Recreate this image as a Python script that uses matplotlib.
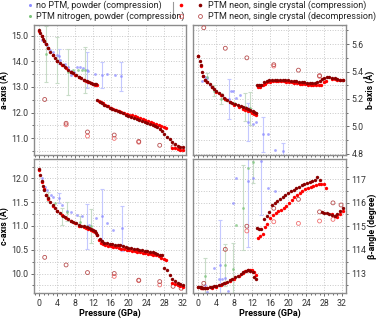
import numpy as np
import matplotlib
matplotlib.use("Agg")
import matplotlib.pyplot as plt
from matplotlib.ticker import MultipleLocator, FormatStrFormatter
from matplotlib.lines import Line2D
from matplotlib.legend_handler import HandlerTuple

plt.rcParams["font.family"] = ["Roboto", "DejaVu Sans"]

nan = np.nan

# --- PTM neon, single crystal (compression), run 1 (dark red) ---
p_dark = [0, 0.25, 0.5, 0.8, 1.1, 1.5, 2.0, 2.5, 3.0, 3.5, 4.0, 4.6, 5.2, 5.8, 6.4, 7.0,
          7.6, 8.2, 8.8, 9.4, 10.0, 10.6, 11.1, 11.6, 12.1, 12.5, 12.8,
          13.0, 13.5, 14.0, 14.6, 15.2, 15.8, 16.4, 17.0, 17.6, 18.2, 18.8, 19.4, 20.0,
          20.6, 21.2, 21.8, 22.4, 23.0, 23.6, 24.2, 24.8, 25.4, 26.0, 26.5, 27.0, 27.5,
          28.0, 28.6, 29.2, 29.8, 30.4, 31.0, 31.6, 32.2]
a_dark = [15.22, 15.12, 15.0, 14.88, 14.78, 14.66, 14.52, 14.38, 14.25, 14.13, 14.03, 13.93,
          13.84, 13.76, 13.68, 13.60, 13.53, 13.46, 13.40, 13.34, 13.28, 13.23, 13.19, 13.16,
          13.13, 13.11, 13.10,
          12.48, 12.43, 12.38, 12.31, 12.25, 12.18, 12.13, 12.09, 12.05, 12.01, 11.97, 11.92,
          11.88, 11.84, 11.80, 11.76, 11.72, 11.68, 11.64, 11.60, 11.56, 11.52, 11.48, 11.44,
          11.36, 11.28, 11.18, 11.06, 10.95, 10.84, 10.76, 10.71, 10.67, 10.64]
b_dark = [5.515, 5.48, 5.45, 5.40, 5.37, 5.34, 5.325, 5.31, 5.29, 5.27, 5.255, 5.24, 5.225,
          5.21, 5.195, 5.18, 5.17, 5.16, 5.155, 5.145, 5.14, 5.13, 5.125, 5.12, 5.115, 5.105,
          5.095,
          5.305, 5.30, 5.30, 5.32, 5.33, 5.335, 5.34, 5.34, 5.34, 5.34, 5.34, 5.338, 5.335,
          5.333, 5.33, 5.328, 5.325, 5.322, 5.32, 5.318, 5.317, 5.317, 5.318, 5.32, 5.33,
          5.345, 5.355, 5.36, 5.36, 5.355, 5.35, 5.345, 5.34, 5.335]
c_dark = [12.20, 12.08, 11.94, 11.84, 11.76, 11.66, 11.58, 11.50, 11.44, 11.38, 11.32, 11.27,
          11.22, 11.18, 11.14, 11.11, 11.09, 11.06, 11.03, 11.01, 10.99, 10.97, 10.95, 10.93,
          10.91, 10.89, 10.86,
          10.80, 10.73, 10.68, 10.65, 10.64, 10.63, 10.62, 10.61, 10.60, 10.59, 10.57, 10.55,
          10.54, 10.53, 10.52, 10.51, 10.50, 10.49, 10.48, 10.47, 10.46, 10.45, 10.43, 10.42,
          10.40, 10.38, 10.12, 10.07, 9.97, 9.89, 9.84, 9.80, 9.77, 9.75]
beta_dark = [112.43, 112.42, 112.41, 112.40, 112.39, 112.39, 112.40, 112.41, 112.43, 112.45,
             112.47, 112.51, 112.55, 112.59, 112.64, 112.70, 112.76, 112.84, 112.91, 112.99,
             113.06, 113.12, 113.13, 113.10, 113.04, 112.85, 112.75,
             114.94, 114.90, 114.88, 115.30, 115.45, 115.60, 115.88, 115.98, 116.05, 116.15,
             116.24, 116.32, 116.40, 116.48, 116.55, 116.62, 116.68, 116.74, 116.79, 116.84,
             116.88, 116.93, 116.97, 117.08, 116.98, 115.60, 115.58, 115.55, 115.50, 115.46,
             115.45, 115.52, 115.65, 115.78]

# --- PTM neon, single crystal (compression), run 2 (red) ---
p_red = [0, 0.5, 1.0, 1.5, 2.0, 3.0, 4.0, 5.0, 6.0, 7.0, 8.0, 9.0, 10.0, 10.5, 11.0, 11.5,
         12.0, 12.5, 12.9,
         13.3, 13.8, 14.3, 14.8, 15.4, 16.0, 16.6, 17.2, 17.8, 18.4, 19.0, 19.6, 20.2, 20.8,
         21.4, 22.0, 22.6, 23.2, 23.8, 24.4, 25.0, 25.6, 26.2, 26.8, 27.4, 28.0, 28.4,
         29.8, 30.4, 31.0, 31.6, 32.2]
a_red = [15.2, 14.98, 14.8, 14.66, 14.52, 14.25, 14.03, 13.86, 13.73, 13.60, 13.48, 13.38,
         13.28, 13.24, 13.20, 13.16, 13.12, 13.09, 13.07,
         12.46, 12.41, 12.36, 12.30, 12.24, 12.19, 12.15, 12.11, 12.07, 12.03, 11.99, 11.96,
         11.92, 11.89, 11.85, 11.82, 11.78, 11.75, 11.71, 11.68, 11.64, 11.60, 11.56, 11.52,
         11.47, 11.42, 11.38,
         10.62, 10.60, 10.57, 10.55, 10.53]
b_red = [5.51, 5.44, 5.37, 5.34, 5.32, 5.29, 5.25, 5.225, 5.20, 5.175, 5.155, 5.14, 5.125,
         5.12, 5.115, 5.11, 5.10, 5.09, 5.085,
         5.285, 5.29, 5.30, 5.31, 5.32, 5.325, 5.33, 5.33, 5.33, 5.33, 5.328, 5.325, 5.323,
         5.32, 5.318, 5.315, 5.312, 5.31, 5.307, 5.305, 5.303, 5.30, 5.30, 5.298, 5.30, 5.32,
         5.33,
         5.345, 5.345, 5.34, 5.34, 5.335]
c_red = [12.18, 11.93, 11.77, 11.65, 11.57, 11.43, 11.31, 11.23, 11.16, 11.10, 11.06, 11.01,
         10.98, 10.96, 10.94, 10.92, 10.90, 10.87, 10.82,
         10.70, 10.65, 10.62, 10.60, 10.58, 10.57, 10.56, 10.55, 10.53, 10.52, 10.51, 10.50,
         10.49, 10.48, 10.47, 10.46, 10.45, 10.44, 10.43, 10.42, 10.41, 10.40, 10.38, 10.36,
         10.33, 10.30, 10.28,
         9.80, 9.77, 9.75, 9.73, 9.72]
beta_red = [112.42, 112.40, 112.38, 112.37, 112.38, 112.40, 112.44, 112.50, 112.58, 112.67,
            112.78, 112.90, 113.02, 113.10, 113.16, 113.16, 113.13, 113.05, 112.95,
            114.52, 114.60, 114.68, 114.95, 115.10, 115.35, 115.48, 115.56, 115.63, 115.70,
            115.78, 115.86, 115.98, 116.10, 116.22, 116.32, 116.42, 116.50, 116.56, 116.62,
            116.67, 116.72, 116.76, 116.78, 116.80, 116.80, 116.64,
            115.50, 115.45, 115.40, 115.50, 115.65]

# --- PTM neon, single crystal (decompression) ---
p_dec_dark = [1.2, 6.0, 10.8, 16.8, 22.3, 27.0, 30.0, 31.8]
a_dec_dark = [12.51, 11.58, 11.24, 11.12, 10.87, 10.72, 10.66, nan]
b_dec_dark = [5.72, 5.57, 5.50, 5.45, 5.41, 5.37, nan, nan]
c_dec_dark = [10.34, 10.18, 10.02, 10.00, 9.86, 9.83, 9.73, 9.69]
beta_dec_dark = [112.58, 114.02, 115.0, 115.76, 116.14, 115.61, 115.99, 115.9]

p_dec_red = [6.0, 10.8, 16.8, 22.3, 27.0, 30.0]
a_dec_red = [11.52, 11.08, 10.99, 10.84, nan, nan]
b_dec_red = [nan, nan, 5.44, nan, 5.365, nan]
c_dec_red = [nan, nan, 9.94, 9.85, 9.76, nan]
beta_dec_red = [nan, 114.8, 115.19, 115.12, 115.22, 115.29]

# --- no PTM, powder (compression) ---
p_blue_a = [0.7, 1.3, 1.8, 2.5, 3.0, 3.9, 4.4, 4.7, 5.8, 6.4, 7.0, 7.2, 7.8, 8.4, 9.2, 9.8,
            10.6, 11.0, 12.5, 14.0, 15.1, 16.9, 18.4]
a_blue = [14.85, 14.70, 14.62, 14.45, 14.35, 14.25, 14.20, 14.05, 13.90, 13.78, 13.63, 13.45,
          13.58, 13.78, 13.78, 13.75, 13.65, 13.62, 13.49, 13.46, 13.50, 13.46, 13.42]
a_blue_err = [nan, nan, nan, nan, nan, nan, 0.3, nan, nan, nan, nan, nan, nan, nan, nan, nan,
              0.7, nan, nan, 0.52, nan, nan, 0.56]
p_blue_b = [0.8, 1.5, 1.9, 2.6, 3.4, 3.8, 4.5, 5.3, 6.0, 6.8, 7.3, 7.8, 8.3, 9.2, 10.5, 11.0,
            12.1, 12.8, 14.4, 15.5, 17.0, 18.9]
b_blue = [5.33, 5.36, 5.35, 5.30, 5.27, 5.26, 5.24, 5.23, 5.21, 5.20, 5.26, 5.26, 5.21, 5.23,
          5.14, 5.03, 5.02, 5.03, 4.94, 4.94, 4.83, 4.82]
b_blue_err = [nan, nan, nan, nan, nan, nan, nan, nan, nan, 0.145, nan, nan, nan, nan, nan,
              0.14, nan, nan, 0.13, nan, nan, 0.06]
p_blue_c = [0.5, 1.3, 1.8, 2.6, 3.1, 4.3, 5.0, 6.1, 7.2, 8.4, 9.5, 10.7, 11.2, 12.8, 14.0,
            15.2, 16.6, 18.6]
c_blue = [12.0, 11.82, 11.76, 11.65, 11.62, 11.59, 11.45, 11.32, 11.30, 11.24, 11.21, 10.99,
          11.02, 11.16, 11.22, 11.07, 10.92, 10.95]
c_blue_err = [nan, nan, nan, nan, nan, 0.1, nan, nan, nan, nan, nan, 0.47, nan, nan, 0.55,
              nan, nan, 0.48]
p_blue_beta = [1.5, 2.0, 3.4, 4.5, 4.8, 5.2, 6.0, 6.7, 7.8, 8.3, 11.0, 12.1, 14.0, 15.5, 17.0]
beta_blue = [112.5, 112.22, 113.21, 112.76, 113.35, 112.76, 112.79, 112.25, 115.97, 117.03,
             116.9, 117.03, 117.76, 116.63, 116.49]
beta_blue_err = [nan, nan, nan, nan, 1.9, nan, nan, nan, nan, nan, 2.8, nan, 2.3, nan, nan]

# --- PTM nitrogen, powder (compression) ---
p_green_a = [1.6, 4.0, 6.5, 7.5, 8.6, 9.5, 10.2]
a_green = [14.30, 14.05, 13.58, 13.65, 13.68, 13.68, 13.66]
a_green_err = [1.1, 0.9, 0.9, nan, nan, nan, 0.9]
p_green_b = [1.9, 3.5, 5.0, 6.0, 8.0, 10.5, 11.6]
b_green = [5.36, 5.26, 5.20, 5.19, 5.17, 5.14, 5.13]
b_green_err = [0.03, 0.04, 0.04, nan, nan, 0.1, 0.12]
p_green_c = [2.0, 3.5, 5.0, 6.1, 9.1, 10.7, 11.6]
c_green = [11.62, 11.48, 11.20, 11.30, 11.09, 11.00, 11.00]
c_green_err = [0.1, nan, 0.18, 0.2, 0.12, nan, 0.35]
p_green_beta = [1.5, 6.0, 7.8, 8.3, 10.0, 11.0, 12.1]
beta_green = [112.9, 113.35, 113.2, 115.05, 115.78, 117.48, 117.73]
beta_green_err = [0.75, 0.9, 1.1, nan, 1.8, nan, 0.9]

DARK = "#8b0000"
RED = "#ff0000"
BLUE = "#8c8cff"
GREEN = "#7cc47c"
GRID = "#c8c8c8"
FRAME = "#8c8c8c"
DEC_DARK = "#b85050"
DEC_RED = "#f07070"


def draw_panel(ax, blue, green, dark, red, dec_dark, dec_red):
    for p, v, e, col, ecol in [(*blue, BLUE, "#c4c8ff"), (*green, GREEN, "#c8dcc8")]:
        ax.errorbar(p, v, yerr=e, fmt="none", ecolor=ecol, elinewidth=0.8,
                    capsize=1.5, capthick=0.8, zorder=1)
        ax.scatter(p, v, s=4, color=col, alpha=0.75, linewidths=0, zorder=2)
    ax.scatter(dec_red[0], dec_red[1], s=8, facecolors="none", edgecolors=DEC_RED,
               linewidths=0.6, zorder=3)
    ax.scatter(dec_dark[0], dec_dark[1], s=8, facecolors="none", edgecolors=DEC_DARK,
               linewidths=0.6, zorder=3)
    ax.scatter(red[0], red[1], s=6, color=RED, linewidths=0, zorder=4)
    ax.scatter(dark[0], dark[1], s=6, color=DARK, linewidths=0, zorder=5)


def style_panel(ax, ylim, major, minor, ylabel, fmt, right=False, bottom=False):
    ax.set_xlim(-1.2, 32.9)
    ax.set_ylim(*ylim)
    ax.xaxis.set_major_locator(MultipleLocator(4))
    ax.xaxis.set_minor_locator(MultipleLocator(1))
    ax.yaxis.set_major_locator(MultipleLocator(major))
    ax.yaxis.set_minor_locator(MultipleLocator(minor))
    ax.yaxis.set_major_formatter(FormatStrFormatter(fmt))
    ax.grid(True, which="major", axis="x", color=GRID, linestyle=":", linewidth=0.7)
    ax.grid(True, which="both", axis="y", color=GRID, linestyle=":", linewidth=0.7)
    ax.set_axisbelow(True)
    for s in ax.spines.values():
        s.set_color(FRAME)
        s.set_linewidth(1.0)
    ax.tick_params(which="both", colors="#555555", labelsize=6.3, direction="out",
                   width=0.6, labelcolor="#333333", pad=1.5)
    ax.tick_params(which="major", length=2.5)
    ax.tick_params(which="minor", length=1.3)
    if right:
        ax.yaxis.tick_right()
        ax.yaxis.set_label_position("right")
    ax.set_ylabel(ylabel, fontsize=6.3, fontweight="bold", labelpad=1)
    if bottom:
        ax.set_xlabel("Pressure (GPa)", fontsize=6.5, fontweight="bold", labelpad=1)
    else:
        ax.tick_params(axis="x", labelbottom=False)


fig = plt.figure(figsize=(3.76, 3.23), dpi=100)
ax_a = fig.add_axes([0.0904, 0.5201, 0.4043, 0.4025])
ax_b = fig.add_axes([0.5133, 0.5201, 0.4069, 0.4025])
ax_c = fig.add_axes([0.0904, 0.0929, 0.4043, 0.4149])
ax_beta = fig.add_axes([0.5133, 0.0929, 0.4069, 0.4149])

draw_panel(ax_a, (p_blue_a, a_blue, a_blue_err), (p_green_a, a_green, a_green_err),
           (p_dark, a_dark), (p_red, a_red), (p_dec_dark, a_dec_dark), (p_dec_red, a_dec_red))
draw_panel(ax_b, (p_blue_b, b_blue, b_blue_err), (p_green_b, b_green, b_green_err),
           (p_dark, b_dark), (p_red, b_red), (p_dec_dark, b_dec_dark), (p_dec_red, b_dec_red))
draw_panel(ax_c, (p_blue_c, c_blue, c_blue_err), (p_green_c, c_green, c_green_err),
           (p_dark, c_dark), (p_red, c_red), (p_dec_dark, c_dec_dark), (p_dec_red, c_dec_red))
draw_panel(ax_beta, (p_blue_beta, beta_blue, beta_blue_err),
           (p_green_beta, beta_green, beta_green_err),
           (p_dark, beta_dark), (p_red, beta_red), (p_dec_dark, beta_dec_dark),
           (p_dec_red, beta_dec_red))

style_panel(ax_a, (10.34, 15.42), 1.0, 0.5, "a-axis (Å)", "%.1f")
style_panel(ax_b, (4.79, 5.74), 0.2, 0.1, "b-axis (Å)", "%.1f", right=True)
style_panel(ax_c, (9.59, 12.41), 0.5, 0.25, "c-axis (Å)", "%.1f", bottom=True)
style_panel(ax_beta, (112.17, 117.85), 1.0, 0.5, "β-angle (degree)", "%.0f",
            right=True, bottom=True)

# legends
mk = dict(linestyle="none", marker="o")
h_blue = Line2D([], [], color=BLUE, markersize=2.2, markeredgewidth=0, **mk)
h_green = Line2D([], [], color=GREEN, markersize=2.2, markeredgewidth=0, **mk)
h_red = Line2D([], [], color=RED, markersize=2.6, markeredgewidth=0, **mk)
h_dark = Line2D([], [], color=DARK, markersize=2.6, markeredgewidth=0, **mk)
h_red_o = Line2D([], [], markerfacecolor="none", markeredgecolor=DEC_RED,
                 markersize=2.8, markeredgewidth=0.6, **mk)
h_dark_o = Line2D([], [], markerfacecolor="none", markeredgecolor=DEC_DARK,
                  markersize=2.8, markeredgewidth=0.6, **mk)

leg_kw = dict(frameon=False, fontsize=6.5, handletextpad=0.4, labelspacing=0.15,
              borderpad=0, borderaxespad=0, labelcolor="#222222")
fig.legend([h_blue, h_green],
           ["no PTM, powder (compression)", "PTM nitrogen, powder (compression)"],
           loc="upper left", bbox_to_anchor=(0.072, 0.998), handlelength=0.6, **leg_kw)
fig.legend([(h_red, h_dark), (h_red_o, h_dark_o)],
           ["PTM neon, single crystal (compression)",
            "PTM neon, single crystal (decompression)"],
           loc="upper left", bbox_to_anchor=(0.47, 0.998), handlelength=3.1,
           handler_map={tuple: HandlerTuple(ndivide=None, pad=1.2)}, **leg_kw)
fig.add_artist(Line2D([0.459, 0.459], [0.945, 0.995], color="#999999", linewidth=0.8))

fig.savefig("out.png", dpi=100)
